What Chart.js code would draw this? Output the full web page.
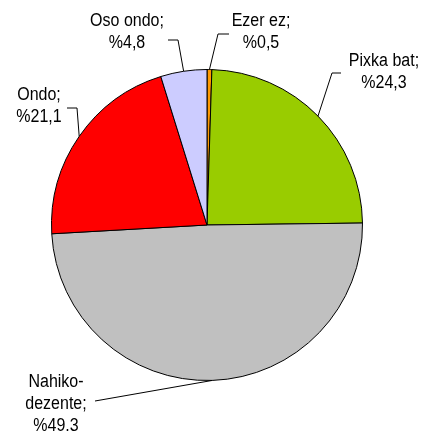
<!DOCTYPE html>
<html>
<head>
<meta charset="utf-8">
<script src="https://cdn.jsdelivr.net/npm/chart.js@4"></script>
<style>
html,body{margin:0;padding:0;background:#fff;}
#wrap{width:422px;height:432px;}
</style>
</head>
<body>
<div id="wrap"><canvas id="c" width="422" height="432"></canvas></div>
<script>
const categories = ["Ezer ez", "Pixka bat", "Nahiko-dezente", "Ondo", "Oso ondo"];
const values = [0.5, 24.3, 49.3, 21.1, 4.8];
const valueLabels = ["%0,5", "%24,3", "%49.3", "%21,1", "%4,8"];
const nameLines = [["Ezer ez;"], ["Pixka bat;"], ["Nahiko-", "dezente;"], ["Ondo;"], ["Oso ondo;"]];
const colors = ["#FF9900", "#99CC00", "#C0C0C0", "#FF0000", "#CCCCFF"];

// label placement relative to pie centre: text centre x / first baseline y, elbow point, line end x
const labelLayout = [
  {tx: 54, ty: -199, ex: 11, ey: -191, endX: 22},
  {tx: 177, ty: -159, ex: 125, ey: -152, endX: 134},
  {tx: -151, ty: 162, ex: -112, ey: 176, endX: -112},
  {tx: -168, ty: -125, ex: -130, ey: -117, endX: -140},
  {tx: -80, ty: -199, ex: -29, ey: -185, endX: -39}
];

const labelPlugin = {
  id: 'pieLabels',
  afterDatasetsDraw(chart) {
    const ctx = chart.ctx;
    const meta = chart.getDatasetMeta(0);
    ctx.save();
    meta.data.forEach((arc, i) => {
      const p = arc.getProps(['x', 'y', 'startAngle', 'endAngle', 'outerRadius'], true);
      const mid = (p.startAngle + p.endAngle) / 2;
      const ax = p.x + Math.cos(mid) * p.outerRadius;
      const ay = p.y + Math.sin(mid) * p.outerRadius;
      const L = labelLayout[i];
      ctx.strokeStyle = '#000';
      ctx.lineWidth = 1;
      ctx.beginPath();
      ctx.moveTo(ax, ay);
      ctx.lineTo(p.x + L.ex, p.y + L.ey);
      ctx.lineTo(p.x + L.endX, p.y + L.ey);
      ctx.stroke();
      const lines = nameLines[i].concat([valueLabels[i]]);
      ctx.fillStyle = '#000';
      ctx.font = '16px "Liberation Sans", Arial, sans-serif';
      ctx.textAlign = 'center';
      ctx.textBaseline = 'alphabetic';
      const sy = 1.1;
      lines.forEach((t, k) => {
        const bx = p.x + L.tx;
        const by = p.y + L.ty + k * 22;
        ctx.save();
        ctx.translate(bx, by);
        ctx.scale(1, sy);
        ctx.fillText(t, 0, 0);
        ctx.restore();
      });
    });
    ctx.restore();
  }
};

new Chart(document.getElementById('c'), {
  type: 'pie',
  data: {
    labels: categories,
    datasets: [{
      data: values,
      backgroundColor: colors,
      borderColor: '#000',
      borderWidth: 1
    }]
  },
  options: {
    responsive: false,
    animation: false,
    layout: {padding: {left: 51, right: 59, top: 69, bottom: 51}},
    plugins: {legend: {display: false}, tooltip: {enabled: false}}
  },
  plugins: [labelPlugin]
});
</script>
</body>
</html>
